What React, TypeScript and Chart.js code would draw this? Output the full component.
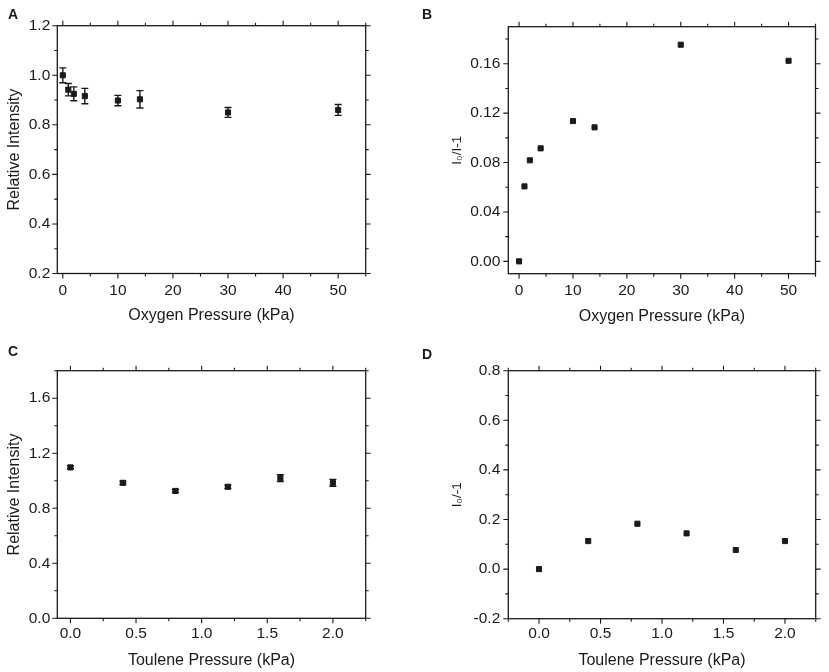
import React, { useEffect, useRef } from 'react';
import { Chart, registerables } from 'chart.js';

Chart.register(...registerables);

// panel A/B: oxygen quenching
const oxygenKPa = [0, 1, 2, 4, 10, 14, 30, 50];
const oxygenIntensity = [1.0, 0.942, 0.925, 0.916, 0.898, 0.903, 0.85, 0.86];
const oxygenIntensityErr = [0.03, 0.025, 0.028, 0.031, 0.021, 0.035, 0.02, 0.022];
const oxygenSV = [0, 0.0607, 0.0818, 0.0915, 0.1136, 0.1085, 0.1754, 0.1624];

// panel C/D: toluene
const tolueneKPa = [0, 0.4, 0.8, 1.2, 1.6, 2.0];
const tolueneIntensity = [1.097, 0.985, 0.926, 0.956, 1.019, 0.985];
const tolueneIntensityErr = [0.012, 0.012, 0.012, 0.012, 0.025, 0.025];
const tolueneSV = [0, 0.113, 0.183, 0.144, 0.077, 0.113];

// tick labels
const xTicksOxygen = [0, 10, 20, 30, 40, 50];
const xTicksToluene = [0, 0.5, 1.0, 1.5, 2.0];
const yTicksA = [0.2, 0.4, 0.6, 0.8, 1.0, 1.2];
const yTicksB = [0, 0.04, 0.08, 0.12, 0.16];
const yTicksC = [0, 0.4, 0.8, 1.2, 1.6];
const yTicksD = [-0.2, 0, 0.2, 0.4, 0.6, 0.8];

const INK = '#1a1a1a';
const FONT = '"Liberation Sans", Arial, sans-serif';
const W = 414;
const H = 336;

type Area = { l: number; r: number; t: number; b: number };

type PanelProps = {
  letter: string;
  left: number;
  top: number;
  xs: number[];
  ys: number[];
  errs?: number[];
  xRange: [number, number];
  yRange: [number, number];
  xTicks: number[];
  yTicks: number[];
  xMinor: number;
  yMinor: number;
  xDec: number;
  yDec: number;
  xTitle: string;
  yTitle: string;
  yTitleSize: number;
  area: Area;
  yTitleX: number;
  xTitleY: number;
  xTickPad: number;
  yTickPad: number;
  letterTop: number;
};

function minorValues(min: number, max: number, step: number) {
  const out: number[] = [];
  for (let k = Math.ceil(min / step - 1e-9); k * step <= max + 1e-9; k++) out.push(+(k * step).toFixed(6));
  return out;
}

function Panel(p: PanelProps) {
  const canvasRef = useRef<HTMLCanvasElement | null>(null);

  useEffect(() => {
    if (!canvasRef.current) return;

    const errorBars = {
      id: 'errorBars',
      beforeDatasetsDraw(chart: any) {
        if (!p.errs) return;
        const { ctx, scales } = chart;
        ctx.save();
        ctx.strokeStyle = INK;
        ctx.lineWidth = 1.4;
        p.xs.forEach((x, i) => {
          const px = scales.x.getPixelForValue(x);
          const y1 = scales.y.getPixelForValue(p.ys[i] + p.errs![i]);
          const y2 = scales.y.getPixelForValue(p.ys[i] - p.errs![i]);
          ctx.beginPath();
          ctx.moveTo(px, y1);
          ctx.lineTo(px, y2);
          ctx.moveTo(px - 3.5, y1);
          ctx.lineTo(px + 3.5, y1);
          ctx.moveTo(px - 3.5, y2);
          ctx.lineTo(px + 3.5, y2);
          ctx.stroke();
        });
        ctx.restore();
      },
    };

    const frame = {
      id: 'frame',
      afterDraw(chart: any) {
        const { ctx, chartArea: a, scales } = chart;
        ctx.save();
        ctx.strokeStyle = INK;
        ctx.lineWidth = 1.3;
        ctx.strokeRect(a.left, a.top, a.right - a.left, a.bottom - a.top);
        ctx.lineWidth = 1.1;
        const xTick = (v: number, len: number) => {
          const px = scales.x.getPixelForValue(v);
          ctx.moveTo(px, a.bottom);
          ctx.lineTo(px, a.bottom + len);
          ctx.moveTo(px, a.top);
          ctx.lineTo(px, a.top - len);
        };
        const yTick = (v: number, len: number) => {
          const py = scales.y.getPixelForValue(v);
          ctx.moveTo(a.left, py);
          ctx.lineTo(a.left - len, py);
          ctx.moveTo(a.right, py);
          ctx.lineTo(a.right + len, py);
        };
        ctx.beginPath();
        minorValues(p.xRange[0], p.xRange[1], p.xMinor).forEach((v) => xTick(v, 3));
        minorValues(p.yRange[0], p.yRange[1], p.yMinor).forEach((v) => yTick(v, 3));
        p.xTicks.forEach((v) => xTick(v, 5));
        p.yTicks.forEach((v) => yTick(v, 5));
        ctx.stroke();
        ctx.restore();
      },
    };

    const chart = new Chart(canvasRef.current, {
      type: 'scatter',
      data: {
        datasets: [
          {
            data: p.xs.map((x, i) => ({ x, y: p.ys[i] })),
            pointStyle: 'rect',
            pointRadius: 3.6,
            pointBackgroundColor: INK,
            pointBorderColor: INK,
            pointBorderWidth: 1,
            showLine: false,
          },
        ],
      },
      options: {
        responsive: false,
        animation: false,
        layout: { padding: { left: 0, top: p.area.t, right: W - p.area.r, bottom: 0 } },
        plugins: { legend: { display: false }, tooltip: { enabled: false } },
        scales: {
          x: {
            type: 'linear',
            min: p.xRange[0],
            max: p.xRange[1],
            grid: { display: false, drawTicks: false },
            border: { display: false },
            afterBuildTicks: (s: any) => {
              s.ticks = p.xTicks.map((v) => ({ value: v }));
            },
            afterFit: (s: any) => {
              s.height = H - p.area.b;
            },
            ticks: {
              padding: p.xTickPad,
              color: INK,
              maxRotation: 0,
              autoSkip: false,
              font: { family: FONT, size: 15.5 },
              callback: (v: any) => Number(v).toFixed(p.xDec),
            },
            title: {
              display: true,
              text: p.xTitle,
              color: INK,
              font: { family: FONT, size: 16 },
              padding: { top: 0, bottom: H - p.xTitleY - 9.6 },
            },
          },
          y: {
            type: 'linear',
            min: p.yRange[0],
            max: p.yRange[1],
            grid: { display: false, drawTicks: false },
            border: { display: false },
            afterBuildTicks: (s: any) => {
              s.ticks = p.yTicks.map((v) => ({ value: v }));
            },
            afterFit: (s: any) => {
              s.width = p.area.l;
            },
            ticks: {
              padding: p.yTickPad,
              color: INK,
              autoSkip: false,
              font: { family: FONT, size: 15.5 },
              callback: (v: any) => Number(v).toFixed(p.yDec),
            },
            title: {
              display: true,
              text: p.yTitle,
              color: INK,
              font: { family: FONT, size: p.yTitleSize },
              padding: { top: p.yTitleX - p.yTitleSize * 0.6, bottom: 0 },
            },
          },
        },
      },
      plugins: [errorBars, frame],
    });
    return () => chart.destroy();
  }, []);

  return (
    <>
      <canvas
        ref={canvasRef}
        width={W}
        height={H}
        style={{ position: 'absolute', left: p.left, top: p.top, width: W, height: H, display: 'block' }}
      />
      <div
        style={{
          position: 'absolute',
          left: p.left + 8,
          top: p.top + p.letterTop,
          font: `bold 14px ${FONT}`,
          lineHeight: '14px',
          color: INK,
        }}
      >
        {p.letter}
      </div>
    </>
  );
}

export default function App() {
  return (
    <div style={{ position: 'fixed', left: 0, top: 0, width: 829, height: 672, background: '#fff' }}>
      <Panel
        letter="A"
        left={0}
        top={0}
        letterTop={7}
        xs={oxygenKPa}
        ys={oxygenIntensity}
        errs={oxygenIntensityErr}
        xRange={[-1, 55]}
        yRange={[0.2, 1.2]}
        xTicks={xTicksOxygen}
        yTicks={yTicksA}
        xMinor={5}
        yMinor={0.1}
        xDec={0}
        yDec={1}
        xTitle="Oxygen Pressure (kPa)"
        yTitle="Relative Intensity"
        yTitleSize={16}
        area={{ l: 57.3, r: 365.7, t: 25.7, b: 273.5 }}
        yTitleX={15}
        xTitleY={316}
        xTickPad={7.7}
        yTickPad={7}
      />
      <Panel
        letter="B"
        left={414}
        top={0}
        letterTop={7}
        xs={oxygenKPa}
        ys={oxygenSV}
        xRange={[-2, 55]}
        yRange={[-0.01, 0.19]}
        xTicks={xTicksOxygen}
        yTicks={yTicksB}
        xMinor={5}
        yMinor={0.02}
        xDec={0}
        yDec={2}
        xTitle="Oxygen Pressure (kPa)"
        yTitle="I₀/I-1"
        yTitleSize={13.5}
        area={{ l: 94.3, r: 401.5, t: 26.7, b: 273.7 }}
        yTitleX={43}
        xTitleY={316.2}
        xTickPad={7.7}
        yTickPad={8}
      />
      <Panel
        letter="C"
        left={0}
        top={336}
        letterTop={8}
        xs={tolueneKPa}
        ys={tolueneIntensity}
        errs={tolueneIntensityErr}
        xRange={[-0.1, 2.25]}
        yRange={[0, 1.8]}
        xTicks={xTicksToluene}
        yTicks={yTicksC}
        xMinor={0.25}
        yMinor={0.2}
        xDec={1}
        yDec={1}
        xTitle="Toulene Pressure (kPa)"
        yTitle="Relative Intensity"
        yTitleSize={16}
        area={{ l: 57.3, r: 365.7, t: 34.7, b: 282.3 }}
        yTitleX={15}
        xTitleY={324.3}
        xTickPad={6}
        yTickPad={7}
      />
      <Panel
        letter="D"
        left={414}
        top={336}
        letterTop={11}
        xs={tolueneKPa}
        ys={tolueneSV}
        xRange={[-0.25, 2.25]}
        yRange={[-0.2, 0.8]}
        xTicks={xTicksToluene}
        yTicks={yTicksD}
        xMinor={0.25}
        yMinor={0.1}
        xDec={1}
        yDec={1}
        xTitle="Toulene Pressure (kPa)"
        yTitle="I₀/-1"
        yTitleSize={13.5}
        area={{ l: 94.3, r: 401.7, t: 34.7, b: 282.7 }}
        yTitleX={43}
        xTitleY={325}
        xTickPad={6}
        yTickPad={8}
      />
    </div>
  );
}
